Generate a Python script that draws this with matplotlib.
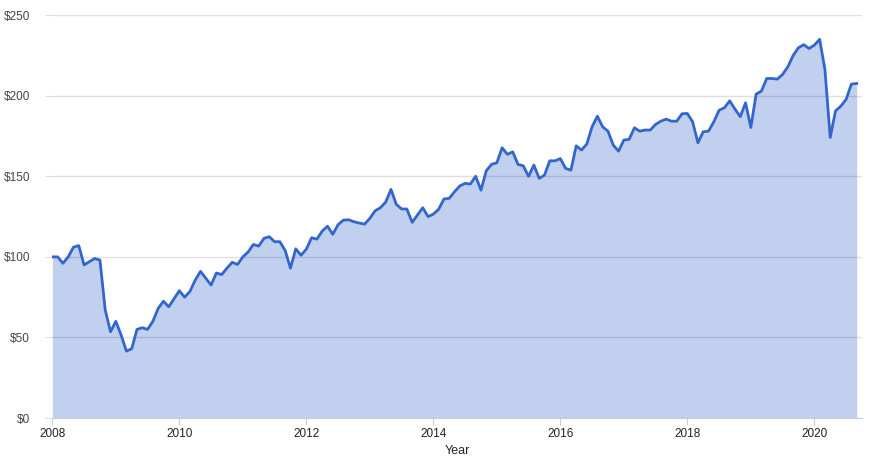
import numpy as np
import matplotlib.pyplot as plt

plt.rcParams['font.family'] = ['Liberation Sans', 'DejaVu Sans']

# monthly values, Jan 2008 .. Sep 2020
values = [
    100, 100, 96, 100, 106, 107, 95, 97, 99, 98, 67, 53.5,
    60, 51.5, 41.5, 43, 55, 56, 55, 60, 68, 72.5, 69, 74,
    79, 75, 78.5, 85.6, 91, 86.7, 82.5, 90, 89, 93, 96.6, 95.3,
    100, 103, 107.7, 106.7, 111.5, 112.5, 109.4, 109.4, 104, 93, 105, 101,
    104.8, 111.9, 111, 116, 119, 114, 120, 122.8, 123, 121.8, 121, 120.3,
    123.9, 128.6, 130.5, 134, 141.9, 132.6, 129.7, 129.7, 121.4, 126, 130.5, 125,
    126.5, 129.5, 135.9, 136.3, 140.4, 144, 145.6, 145.2, 150, 141.4, 153.4, 157.4,
    158.4, 167.7, 163.6, 165.2, 157.4, 156.5, 150, 157, 148.7, 150.7, 159.6, 159.6,
    161, 154.9, 153.8, 168.9, 166.3, 170, 180.7, 187.3, 180.7, 178, 169.4, 165.6,
    172.5, 172.9, 180.1, 178, 178.7, 178.7, 182.2, 184.2, 185.5, 184.2, 184.2, 188.8,
    189, 183.8, 170.8, 177.6, 178, 183.8, 191, 192.5, 196.8, 191.7, 187, 195.6,
    180.3, 201, 202.9, 210.7, 210.7, 210.3, 213.2, 218, 225, 229.8, 231.7, 229.3,
    231.4, 235, 216.3, 174.1, 190.6, 193.5, 197.7, 207.2, 207.6,
]
x_ticks = [2008, 2010, 2012, 2014, 2016, 2018, 2020]
y_ticks = [0, 50, 100, 150, 200, 250]
y_labels = ['$0', '$50', '$100', '$150', '$200', '$250']

years = 2008 + np.arange(len(values)) / 12

fig = plt.figure(figsize=(8.72, 4.59), dpi=100)
ax = fig.add_axes([0.06, 0.0893, 0.9285, 0.8777])

ax.fill_between(years, values, 0, color='#3366cc', alpha=0.3, linewidth=0, zorder=1)
ax.plot(years, values, color='#3366cc', linewidth=2, zorder=3)

for v in y_ticks[1:]:
    ax.axhline(v, color='black', alpha=0.12, linewidth=1, zorder=2)

ax.set_xlim(2008, 2020.75)
ax.set_ylim(0, 250)

ax.set_xticks(x_ticks)
ax.set_xticklabels([str(t) for t in x_ticks])
ax.set_yticks(y_ticks)
ax.set_yticklabels(y_labels)

for side in ['top', 'right', 'left']:
    ax.spines[side].set_visible(False)
ax.spines['bottom'].set_color('#cccccc')

ax.tick_params(axis='x', length=5, color='#cccccc', labelsize=8.5,
               labelcolor='#222222', pad=2)
ax.tick_params(axis='y', length=5, color='#e0e0e0', labelsize=8.5,
               labelcolor='#444444', pad=11)
for lab in ax.get_yticklabels():
    lab.set_horizontalalignment('right')

ax.set_xlabel('Year', fontsize=9, color='#222222', labelpad=4)

fig.savefig('out.png', dpi=100)
